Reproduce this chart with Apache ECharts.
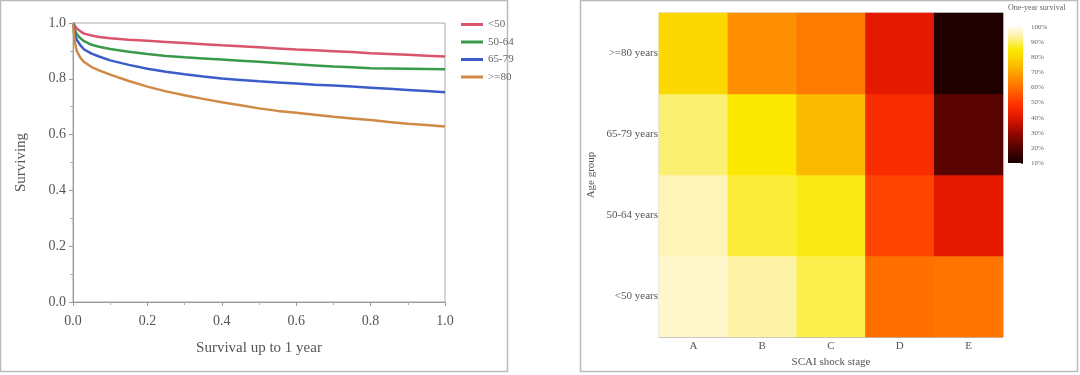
<!DOCTYPE html>
<html><head><meta charset="utf-8">
<script src="https://cdn.jsdelivr.net/npm/echarts@6/dist/echarts.min.js"></script>
<style>html,body{margin:0;padding:0;background:#fff}#c{width:1080px;height:375px}</style>
</head><body><div id="c"></div>
<script>
// ---- Survival curves (time in years, survival proportion) ----
const seriesNames = ['<50', '50-64', '65-79', '>=80'];
const t = [0, 0.005, 0.01, 0.02, 0.03, 0.05, 0.07, 0.1, 0.15, 0.2, 0.25, 0.3, 0.35, 0.4, 0.45, 0.5, 0.55, 0.6, 0.65, 0.7, 0.75, 0.8, 0.85, 0.9, 0.95, 1.0];
const surv50   = [1.0, 0.99, 0.98, 0.97, 0.962, 0.955, 0.95, 0.945, 0.94, 0.936, 0.932, 0.928, 0.924, 0.92, 0.917, 0.913, 0.909, 0.905, 0.902, 0.899, 0.896, 0.892, 0.889, 0.886, 0.883, 0.880];
const surv5064 = [1.0, 0.975, 0.96, 0.945, 0.935, 0.922, 0.915, 0.907, 0.897, 0.889, 0.882, 0.877, 0.873, 0.869, 0.865, 0.861, 0.857, 0.852, 0.848, 0.844, 0.841, 0.838, 0.837, 0.836, 0.835, 0.834];
const surv6579 = [1.0, 0.96, 0.94, 0.92, 0.905, 0.89, 0.88, 0.866, 0.85, 0.836, 0.825, 0.816, 0.808, 0.801, 0.796, 0.791, 0.787, 0.783, 0.779, 0.776, 0.772, 0.768, 0.764, 0.760, 0.756, 0.752];
const surv80   = [1.0, 0.93, 0.90, 0.875, 0.86, 0.842, 0.83, 0.815, 0.792, 0.772, 0.755, 0.741, 0.728, 0.716, 0.705, 0.694, 0.685, 0.678, 0.671, 0.664, 0.658, 0.652, 0.645, 0.639, 0.634, 0.629];
const yTicks = [0.0, 0.2, 0.4, 0.6, 0.8, 1.0];

// ---- Heatmap: one-year survival (%) ----
const stages = ['A', 'B', 'C', 'D', 'E'];
const ageGroups = ['<50 years', '50-64 years', '65-79 years', '>=80 years'];
const survUnder50 = [97, 94, 89, 60, 61];
const surv50to64  = [95, 88, 86, 52, 41];
const surv65to79  = [91, 85, 74, 47, 21];
const surv80plus  = [80, 66, 62, 41, 11];
const colorbarTicks = ['10%', '20%', '30%', '40%', '50%', '60%', '70%', '80%', '90%', '100%'];

// colour scale from 10% to 100% in 5% steps
const hotColors = ['#1a0000', '#330200', '#520400', '#730600', '#950800', '#bb1000', '#e01800', '#f52400', '#ff3800', '#ff5400',
                   '#ff7000', '#fd8a00', '#fca400', '#fbbe00', '#fbd800', '#fbe800', '#fcef60', '#fdf4b8', '#fffbe8'];

function pairs(xs, ys) { return xs.map((x, i) => [x, ys[i]]); }
const heatRows = [survUnder50, surv50to64, surv65to79, surv80plus];
const heatData = [];
heatRows.forEach((row, yi) => row.forEach((v, xi) => heatData.push([xi, yi, v])));

const serif = 'Liberation Serif';
const lineColors = ['#d9546c', '#3a9a4c', '#3b5cc9', '#d08a46'];
const lineData = [surv50, surv5064, surv6579, surv80];

const chart = echarts.init(document.getElementById('c'));
const gradStops = hotColors.map((c, i) => ({ offset: 1 - i / (hotColors.length - 1), color: c }));

chart.setOption({
  animation: false,
  textStyle: { fontFamily: serif },
  graphic: [
    { type: 'rect', shape: { x: 0.5, y: 0.5, width: 507, height: 371 }, style: { fill: 'none', stroke: '#bbb', lineWidth: 1.5 }, silent: true },
    { type: 'rect', shape: { x: 580.5, y: 0.5, width: 497, height: 371 }, style: { fill: 'none', stroke: '#bbb', lineWidth: 1.5 }, silent: true },
    { type: 'text', left: 1008, top: 4, style: { text: 'One-year survival', font: '8px ' + serif, fill: '#666' }, silent: true }
  ],
  legend: {
    data: seriesNames,
    orient: 'vertical', left: 456, top: 14, itemGap: 6.5,
    itemWidth: 22, itemHeight: 3, icon: 'rect',
    textStyle: { fontFamily: serif, fontSize: 11, color: '#666' }
  },
  grid: [
    { left: 73, top: 23, width: 372, height: 279, show: true, borderColor: '#aaa', borderWidth: 1 },
    { left: 659, top: 13, width: 344, height: 324, show: true, borderColor: '#ccc', borderWidth: 1 },
    { left: 1008, top: 27, width: 15, height: 136 }
  ],
  visualMap: {
    show: false, seriesIndex: 4, min: 10, max: 100, dimension: 2,
    inRange: { color: hotColors }
  },
  xAxis: [
    {
      gridIndex: 0, type: 'value', min: 0, max: 1, interval: 0.2,
      name: 'Survival up to 1 year', nameLocation: 'middle', nameGap: 39,
      nameTextStyle: { fontFamily: serif, fontSize: 15, color: '#555' },
      axisLine: { lineStyle: { color: '#999' } },
      axisTick: { show: true, length: 4, lineStyle: { color: '#999' } },
      minorTick: { show: true, splitNumber: 2, length: 3, lineStyle: { color: '#aaa' } },
      splitLine: { show: false },
      axisLabel: { fontFamily: serif, fontSize: 14, color: '#555', margin: 12, formatter: v => v.toFixed(1) }
    },
    {
      gridIndex: 1, type: 'category', data: stages,
      name: 'SCAI shock stage', nameLocation: 'middle', nameGap: 20,
      nameTextStyle: { fontFamily: serif, fontSize: 11, color: '#555' },
      axisLine: { lineStyle: { color: '#bbb' } },
      axisTick: { show: false },
      axisLabel: { fontFamily: serif, fontSize: 11, color: '#555', margin: 4 }
    },
    {
      gridIndex: 2, type: 'category', data: ['s'], show: false
    }
  ],
  yAxis: [
    {
      gridIndex: 0, type: 'value', min: 0, max: 1, interval: 0.2,
      name: 'Surviving', nameLocation: 'middle', nameGap: 44,
      nameTextStyle: { fontFamily: serif, fontSize: 15, color: '#555' },
      axisLine: { show: true, lineStyle: { color: '#999' } },
      axisTick: { show: true, length: 4, lineStyle: { color: '#999' } },
      minorTick: { show: true, splitNumber: 2, length: 3, lineStyle: { color: '#aaa' } },
      splitLine: { show: false },
      axisLabel: { fontFamily: serif, fontSize: 14, color: '#555', margin: 7,
        formatter: v => { const s = v.toFixed(1); return yTicks.some(x => x.toFixed(1) === s) ? s : ''; } }
    },
    {
      gridIndex: 1, type: 'category', data: ageGroups,
      name: 'Age group', nameLocation: 'middle', nameGap: 62,
      nameTextStyle: { fontFamily: serif, fontSize: 11, color: '#555' },
      axisLine: { show: true, lineStyle: { color: '#bbb' } },
      axisTick: { show: false },
      axisLabel: { fontFamily: serif, fontSize: 11, color: '#555', margin: 1 }
    },
    {
      gridIndex: 2, type: 'value', min: 10, max: 100, interval: 10, position: 'right',
      axisLine: { show: false },
      axisTick: { show: true, inside: true, length: 2, lineStyle: { color: '#555' } },
      splitLine: { show: false },
      axisLabel: { fontFamily: serif, fontSize: 7, color: '#666', margin: 8,
        formatter: v => colorbarTicks[Math.round(v / 10) - 1] || '' }
    }
  ],
  series: lineData.map((d, i) => ({
    name: seriesNames[i], type: 'line', xAxisIndex: 0, yAxisIndex: 0,
    data: pairs(t, d), showSymbol: false, symbol: 'none',
    lineStyle: { width: 2.5, color: lineColors[i] }, itemStyle: { color: lineColors[i] }
  })).concat([
    {
      type: 'heatmap', xAxisIndex: 1, yAxisIndex: 1, data: heatData,
      itemStyle: { borderWidth: 0 }
    },
    {
      type: 'bar', xAxisIndex: 2, yAxisIndex: 2, stack: 'cb', barWidth: '100%',
      data: [10], itemStyle: { color: 'transparent' }, silent: true
    },
    {
      type: 'bar', xAxisIndex: 2, yAxisIndex: 2, stack: 'cb', barWidth: '100%',
      data: [90], silent: true,
      itemStyle: { color: new echarts.graphic.LinearGradient(0, 0, 0, 1, gradStops) }
    }
  ])
});
</script>
</body></html>
